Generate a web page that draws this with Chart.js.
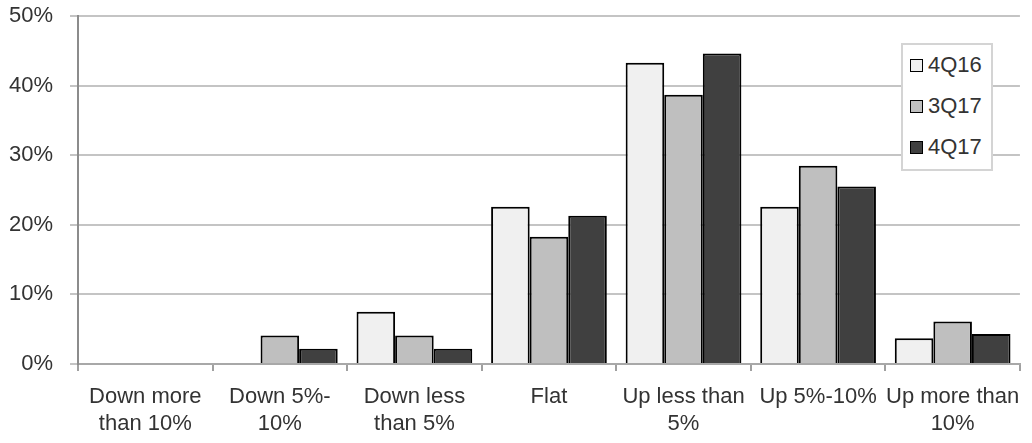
<!DOCTYPE html>
<html>
<head>
<meta charset="utf-8">
<script src="https://cdn.jsdelivr.net/npm/chart.js@4"></script>
<style>
  html, body { margin: 0; padding: 0; background: #fff; }
  #wrap { position: relative; width: 1032px; height: 443px; }
  #legend {
    position: absolute; left: 901px; top: 43px; width: 88px; height: 124px;
    border: 2px solid #d4d4d4; background: #fff;
    font-family: "Liberation Sans", Arial, sans-serif; font-size: 22px; color: #333;
    box-sizing: content-box;
  }
  #legend .item { position: absolute; left: 7px; height: 26px; display: flex; align-items: center; }
  #legend .sw { width: 11px; height: 11px; border: 1.5px solid #000; margin-right: 5px; }
</style>
</head>
<body>
<div id="wrap">
  <canvas id="c" width="1032" height="443"></canvas>
  <div id="legend"></div>
</div>
<script>
const categories = [
  ['Down more', 'than 10%'],
  ['Down 5%-', '10%'],
  ['Down less', 'than 5%'],
  ['Flat'],
  ['Up less than', '5%'],
  ['Up 5%-10%'],
  ['Up more than', '10%']
];
const seriesNames = ['4Q16', '3Q17', '4Q17'];
const values4Q16 = [0, 0, 7.5, 22.6, 43.3, 22.6, 3.7];
const values3Q17 = [0, 4.1, 4.1, 18.3, 38.7, 28.5, 6.1];
const values4Q17 = [0, 2.2, 2.2, 21.3, 44.6, 25.5, 4.3];
const yTicks = [0, 10, 20, 30, 40, 50];
const seriesColors = ['#f0f0f0', '#bfbfbf', '#404040'];

const FONT = '"Liberation Sans", Arial, sans-serif';

const datasets = [values4Q16, values3Q17, values4Q17].map((vals, i) => ({
  label: seriesNames[i],
  data: vals,
  backgroundColor: seriesColors[i],
  borderColor: '#000',
  borderWidth: 2,
  borderSkipped: 'start',
  categoryPercentage: 0.86,
  barPercentage: 1.0
}));

const chart = new Chart(document.getElementById('c'), {
  type: 'bar',
  data: { labels: categories, datasets },
  options: {
    responsive: false,
    animation: false,
    layout: { padding: { top: 16, right: 10, left: 0, bottom: 0 } },
    plugins: { legend: { display: false }, tooltip: { enabled: false } },
    scales: {
      x: {
        offset: true,
        grid: { drawOnChartArea: false, drawTicks: true, tickLength: 7, color: '#a0a0a0', lineWidth: 2, offset: true },
        border: { color: '#a8a8a8', width: 2 },
        ticks: {
          font: { family: FONT, size: 22, lineHeight: 1.25 },
          color: '#333',
          padding: 12,
          maxRotation: 0,
          autoSkip: false
        },
        afterFit(scale) { scale.height = 79; }
      },
      y: {
        min: yTicks[0],
        max: yTicks[yTicks.length - 1],
        afterBuildTicks(scale) { scale.ticks = yTicks.map(v => ({ value: v })); },
        grid: { color: '#c4c4c4', lineWidth: 2, tickLength: 8, drawTicks: true },
        border: { color: '#8c8c8c', width: 2 },
        ticks: {
          font: { family: FONT, size: 22 },
          color: '#333',
          padding: 17,
          callback: v => v + '%'
        },
        afterFit(scale) {
          scale.width = 78;
          scale.paddingTop = 0;
          scale.paddingBottom = 0;
        }
      }
    }
  }
});

// HTML legend built from the chart's datasets
const legend = document.getElementById('legend');
chart.data.datasets.forEach((ds, i) => {
  const item = document.createElement('div');
  item.className = 'item';
  item.style.top = (7 + i * 41) + 'px';
  const sw = document.createElement('span');
  sw.className = 'sw';
  sw.style.background = ds.backgroundColor;
  const tx = document.createElement('span');
  tx.textContent = ds.label;
  item.appendChild(sw);
  item.appendChild(tx);
  legend.appendChild(item);
});
</script>
</body>
</html>
